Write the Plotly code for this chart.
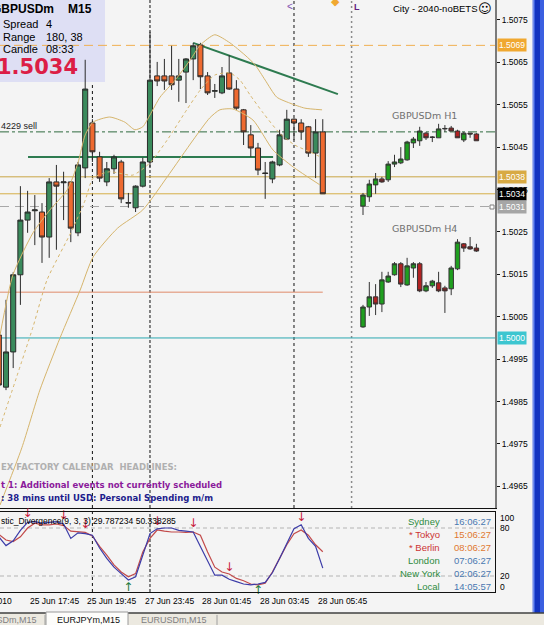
import plotly.graph_objects as go

W, H = 544, 625
SANS = "Liberation Sans"
VERD = "DejaVu Sans"

# ---------------- M15 candles (bar index 0..45) ----------------
bars = list(range(46))
m15_open = [1.50007, 1.49884, 1.49967, 1.50149, 1.50278, 1.50300, 1.50297, 1.50238, 1.50368, 1.50366,
            1.50368, 1.50248, 1.50401, 1.50507, 1.50427, 1.50368, 1.50399, 1.50415, 1.50318, 1.50307,
            1.50358, 1.50415, 1.50618, 1.50618, 1.50618, 1.50608, 1.50627, 1.50658, 1.50691, 1.50618,
            1.50582, 1.50578, 1.50625, 1.50587, 1.50538, 1.50479, 1.50448, 1.50389, 1.50375, 1.50408,
            1.50469, 1.50516, 1.50507, 1.50498, 1.50436, 1.50486]
m15_high = [1.50019, 1.50090, 1.50155, 1.50358, 1.50347, 1.50337, 1.50318, 1.50377, 1.50408, 1.50392,
            1.50370, 1.50415, 1.50656, 1.50516, 1.50439, 1.50415, 1.50432, 1.50420, 1.50342, 1.50360,
            1.50425, 1.50722, 1.50651, 1.50658, 1.50689, 1.50658, 1.50660, 1.50696, 1.50696, 1.50627,
            1.50599, 1.50639, 1.50667, 1.50608, 1.50540, 1.50502, 1.50460, 1.50415, 1.50418, 1.50491,
            1.50538, 1.50518, 1.50516, 1.50500, 1.50516, 1.50516]
m15_low = [1.49877, 1.49877, 1.49929, 1.50078, 1.50248, 1.50219, 1.50177, 1.50189, 1.50208, 1.50278,
           1.50226, 1.50240, 1.50377, 1.50415, 1.50368, 1.50358, 1.50387, 1.50318, 1.50307, 1.50297,
           1.50355, 1.50403, 1.50594, 1.50585, 1.50585, 1.50557, 1.50554, 1.50608, 1.50587, 1.50573,
           1.50566, 1.50575, 1.50585, 1.50538, 1.50455, 1.50427, 1.50384, 1.50328, 1.50365, 1.50405,
           1.50467, 1.50467, 1.50467, 1.50427, 1.50377, 1.50340]
m15_close = [1.49889, 1.49967, 1.50149, 1.50278, 1.50297, 1.50302, 1.50238, 1.50368, 1.50358, 1.50368,
             1.50259, 1.50408, 1.50587, 1.50439, 1.50377, 1.50399, 1.50427, 1.50328, 1.50319, 1.50358,
             1.50415, 1.50608, 1.50606, 1.50606, 1.50597, 1.50618, 1.50658, 1.50689, 1.50616, 1.50578,
             1.50583, 1.50618, 1.50587, 1.50542, 1.50486, 1.50448, 1.50396, 1.50388, 1.50415, 1.50479,
             1.50516, 1.50507, 1.50486, 1.50436, 1.50486, 1.50340]

# ---------------- band lines (bar position, price) ----------------
upper_pos = [0.17, 1.97, 4.75, 7.1, 9.5, 11, 12, 13.1, 15.4, 17.5, 18.9, 20, 21, 22.4, 24.5, 26.6,
             28, 30, 32.1, 34.2, 35.6, 37, 38.6, 40.4, 42.5, 44.9]
upper_val = [1.50007, 1.50149, 1.50248, 1.50302, 1.50349, 1.50413, 1.50479, 1.50509, 1.50521, 1.50509,
             1.50491, 1.50498, 1.50526, 1.50568, 1.50608, 1.50656, 1.50691, 1.50715, 1.50696, 1.50667,
             1.50644, 1.50608, 1.50568, 1.50554, 1.50542, 1.50538]
middle_pos = [0.17, 4.75, 6.7, 10.2, 12, 13.1, 15.4, 18.6, 21, 23.4, 26.1, 28, 30, 32.1, 33.5, 34.9,
              36.7, 39, 41.1, 43.2, 44.9]
middle_val = [1.49790, 1.50026, 1.50137, 1.50255, 1.50325, 1.50377, 1.50392, 1.50384, 1.50413, 1.50467,
              1.50538, 1.50585, 1.50620, 1.50625, 1.50608, 1.50573, 1.50531, 1.50483, 1.50455, 1.50439,
              1.50425]
lower_pos = [0.17, 3.2, 5.7, 8.5, 11.3, 13.1, 16.5, 20, 23.4, 27, 29.3, 30.7, 32.5, 35.3, 38.1, 40.9, 44.6]
lower_val = [1.49606, 1.49741, 1.49877, 1.50000, 1.50113, 1.50191, 1.50259, 1.50302, 1.50380, 1.50467,
             1.50519, 1.50538, 1.50540, 1.50514, 1.50443, 1.50403, 1.50361]

# ---------------- mini H1 / H4 charts ----------------
mini_bars = list(range(19))
h1_open = [1.50311, 1.50333, 1.50361, 1.50375, 1.50373, 1.50410, 1.50413, 1.50420, 1.50460, 1.50465,
           1.50483, 1.50474, 1.50472, 1.50493, 1.50495, 1.50488, 1.50467, 1.50483, 1.50481]
h1_high = [1.50342, 1.50373, 1.50389, 1.50380, 1.50417, 1.50432, 1.50450, 1.50465, 1.50474, 1.50498,
           1.50486, 1.50476, 1.50505, 1.50502, 1.50500, 1.50491, 1.50486, 1.50483, 1.50483]
h1_low = [1.50290, 1.50321, 1.50340, 1.50366, 1.50368, 1.50403, 1.50410, 1.50418, 1.50448, 1.50453,
          1.50467, 1.50462, 1.50472, 1.50486, 1.50488, 1.50472, 1.50462, 1.50472, 1.50465]
h1_close = [1.50337, 1.50363, 1.50375, 1.50368, 1.50410, 1.50415, 1.50422, 1.50462, 1.50469, 1.50488,
            1.50472, 1.50473, 1.50493, 1.50494, 1.50488, 1.50472, 1.50483, 1.50481, 1.50465]
h4_open = [1.50026, 1.50073, 1.50097, 1.50080, 1.50132, 1.50149, 1.50175, 1.50125, 1.50165, 1.50175,
           1.50111, 1.50123, 1.50130, 1.50118, 1.50116, 1.50163, 1.50222, 1.50215, 1.50212]
h4_high = [1.50078, 1.50132, 1.50127, 1.50156, 1.50156, 1.50179, 1.50179, 1.50189, 1.50179, 1.50179,
           1.50132, 1.50137, 1.50156, 1.50123, 1.50170, 1.50233, 1.50224, 1.50238, 1.50222]
h4_low = [1.50024, 1.50052, 1.50054, 1.50061, 1.50130, 1.50147, 1.50120, 1.50123, 1.50142, 1.50108,
          1.50108, 1.50118, 1.50108, 1.50059, 1.50101, 1.50160, 1.50203, 1.50208, 1.50203]
h4_close = [1.50073, 1.50097, 1.50080, 1.50137, 1.50146, 1.50175, 1.50127, 1.50170, 1.50175, 1.50111,
            1.50123, 1.50134, 1.50111, 1.50111, 1.50165, 1.50226, 1.50212, 1.50210, 1.50205]
h1_title = ("GBPUSDm H1", 9.8, 1.50524)
h4_title = ("GBPUSDm H4", 9.8, 1.50257)

# ---------------- stochastic ----------------
stoch_k = [69, 58, 64, 77, 87, 88, 86, 87, 88, 85, 67, 74, 73, 71, 55, 42, 31, 23, 15, 19, 47, 73, 79,
           80, 80, 77, 76, 75, 57, 39, 21, 21, 16, 13, 10, 9, 10, 12, 24, 42, 60, 79, 84, 67, 57, 29.8]
stoch_d = [72, 65, 63, 69, 80, 86, 84, 84, 85, 83, 76, 75, 74.5, 70, 57, 46, 34, 25, 19, 23, 50, 67, 77.5,
           76, 75, 75, 74.5, 75, 71, 50, 31, 25, 22.5, 17, 14, 10, 9, 11, 25, 42, 59, 73, 77.5, 71, 59, 50.3]
arrow_dn_bars = [4, 9, 12, 22, 27, 32, 42]
arrow_dn_vals = [90, 88, 76, 80, 77, 23, 85]
arrow_up_bars = [18, 36]
arrow_up_vals = [13, 9]
stoch_levels = [80, 20]

# ---------------- axis labels ----------------
date_bars = [4, 12, 20, 28, 36, 44]
date_text = ["25 Jun 17:45", "25 Jun 19:45", "27 Jun 23:45", "28 Jun 01:45", "28 Jun 03:45", "28 Jun 05:45"]
first_date = "25 Jun 2010"
price_ticks = [1.5075, 1.5065, 1.5055, 1.5045, 1.5035, 1.5025, 1.5015, 1.5005, 1.4995, 1.4985, 1.4975, 1.4965]

# ---------------- objects ----------------
tag_prices = [1.5069, 1.5038, 1.5034, 1.5031, 1.5000]
sell_level = 1.50486
salmon_level = 1.50108
salmon_bars = [0, 45]
green_level = 1.50427
green_bars = [4.06, 38.1]
trend_bars = [27.0, 47.1]
trend_prices = [1.50696, 1.50575]
vline_bars = [13, 21, 41, 49]
stoch_vline_bars = [13, 21]

session_names = ["Sydney", "* Tokyo", "* Berlin", "London", "New York", "Local"]
session_times = ["16:06:27", "15:06:27", "08:06:27", "07:06:27", "02:06:27", "14:05:57"]

# ================= figure =================
fig = go.Figure()

fig.add_trace(go.Scatter(x=upper_pos, y=upper_val, mode='lines', line=dict(color='#d6b56c', width=1, shape='spline', smoothing=0.6),
                         xaxis='x', yaxis='y', hoverinfo='skip'))
fig.add_trace(go.Scatter(x=middle_pos, y=middle_val, mode='lines', line=dict(color='#d6b56c', width=1, dash='3px,3px', shape='spline', smoothing=0.6),
                         xaxis='x', yaxis='y', hoverinfo='skip'))
fig.add_trace(go.Scatter(x=lower_pos, y=lower_val, mode='lines', line=dict(color='#d6b56c', width=1, shape='spline', smoothing=0.6),
                         xaxis='x', yaxis='y', hoverinfo='skip'))

fig.add_trace(go.Candlestick(x=bars, open=m15_open, high=m15_high, low=m15_low, close=m15_close,
                             increasing=dict(line=dict(color='#2a2a2a', width=1), fillcolor='#3a8a5c'),
                             decreasing=dict(line=dict(color='#2a2a2a', width=1), fillcolor='#ee6a30'),
                             xaxis='x', yaxis='y', hoverinfo='skip'))

mini_style = dict(increasing=dict(line=dict(color='#333333', width=1), fillcolor='#1f9f1f'),
                  decreasing=dict(line=dict(color='#333333', width=1), fillcolor='#b02222'))
fig.add_trace(go.Candlestick(x=mini_bars, open=h1_open, high=h1_high, low=h1_low, close=h1_close,
                             xaxis='x3', yaxis='y', hoverinfo='skip', **mini_style))
fig.add_trace(go.Candlestick(x=mini_bars, open=h4_open, high=h4_high, low=h4_low, close=h4_close,
                             xaxis='x3', yaxis='y', hoverinfo='skip', **mini_style))

# stochastic
fig.add_trace(go.Scatter(x=bars, y=stoch_d, mode='lines', line=dict(color='#c24a4a', width=1.2),
                         xaxis='x2', yaxis='y2', hoverinfo='skip'))
fig.add_trace(go.Scatter(x=bars, y=stoch_k, mode='lines', line=dict(color='#3c3ca8', width=1.2),
                         xaxis='x2', yaxis='y2', hoverinfo='skip'))
fig.add_trace(go.Scatter(x=arrow_dn_bars, y=arrow_dn_vals, mode='text', text=['↓'] * len(arrow_dn_bars),
                         textposition='top center', textfont=dict(size=12, color='#c8203c', family=VERD),
                         xaxis='x2', yaxis='y2', cliponaxis=False, hoverinfo='skip'))
fig.add_trace(go.Scatter(x=arrow_up_bars, y=arrow_up_vals, mode='text', text=['↑'] * len(arrow_up_bars),
                         textposition='bottom center', textfont=dict(size=12, color='#1e7a3c', family=VERD),
                         xaxis='x2', yaxis='y2', cliponaxis=False, hoverinfo='skip'))

shapes = []
# vertical separators in main panel
vstyles = [dict(color='#111111', width=1, dash='dot'), dict(color='#111111', width=1, dash='3px,2px'),
           dict(color='#111111', width=1, dash='dot'), dict(color='#8a8a8a', width=1.5, dash='2px,3px')]
for b, st in zip(vline_bars, vstyles):
    shapes.append(dict(type='line', xref='x', yref='y domain', x0=b, x1=b, y0=0, y1=1, line=st, layer='below'))
for b, st in zip(stoch_vline_bars, vstyles):
    shapes.append(dict(type='line', xref='x2', yref='y2 domain', x0=b, x1=b, y0=0, y1=1, line=st, layer='below'))
# info box
shapes.append(dict(type='rect', xref='x domain', yref='y domain', x0=-0.01, x1=105 / 495, y0=1 - 82 / 508, y1=1.01,
                   fillcolor='#dedff4', line=dict(width=0), layer='below'))
# full-width levels
lvl_styles = [dict(color='#f0b050', width=1, dash='9px,5px'), dict(color='#c9a545', width=1),
              dict(color='#d5ae48', width=1), dict(color='#a8a8a8', width=1, dash='9px,6px'),
              dict(color='#2aa7b0', width=1)]
for p, st in zip(tag_prices, lvl_styles):
    shapes.append(dict(type='line', xref='x domain', yref='y', x0=0, x1=1, y0=p, y1=p, line=st, layer='below'))
shapes.append(dict(type='line', xref='x domain', yref='y', x0=0, x1=1, y0=sell_level, y1=sell_level,
                   line=dict(color='#2f6b3f', width=1, dash='dashdot'), layer='below'))
shapes.append(dict(type='line', xref='x', yref='y', x0=salmon_bars[0] - 1, x1=salmon_bars[1], y0=salmon_level, y1=salmon_level,
                   line=dict(color='#e08a6a', width=1), layer='below'))
shapes.append(dict(type='line', xref='x', yref='y', x0=green_bars[0], x1=green_bars[1], y0=green_level, y1=green_level,
                   line=dict(color='#2e7b50', width=2), layer='below'))
shapes.append(dict(type='line', xref='x', yref='y', x0=trend_bars[0], x1=trend_bars[1], y0=trend_prices[0], y1=trend_prices[1],
                   line=dict(color='#2e7b50', width=2), layer='below'))
for lv in stoch_levels:
    shapes.append(dict(type='line', xref='x2 domain', yref='y2', x0=0, x1=1, y0=lv, y1=lv,
                       line=dict(color='#b4b4b4', width=1, dash='4px,3px'), layer='below'))

def P(px, py):
    return px / W, 1 - py / H

# window chrome: blue bar on the right, tab strip at the bottom
x0, y0 = P(532, 614)
shapes.append(dict(type='rect', xref='paper', yref='paper', x0=x0, x1=1, y0=y0, y1=1, fillcolor='#3a5fe0', line=dict(width=0), layer='above'))
a, _ = P(535, 0); b, _ = P(540, 0)
shapes.append(dict(type='rect', xref='paper', yref='paper', x0=a, x1=b, y0=y0, y1=1, fillcolor='#1233c0', line=dict(width=0), layer='above'))
a, _ = P(532, 0); b, _ = P(533.5, 0)
shapes.append(dict(type='rect', xref='paper', yref='paper', x0=a, x1=b, y0=y0, y1=1, fillcolor='#a9b9f0', line=dict(width=0), layer='above'))
_, t0 = P(0, 613)
shapes.append(dict(type='rect', xref='paper', yref='paper', x0=0, x1=1, y0=0, y1=t0, fillcolor='#ece9e0', line=dict(width=0), layer='above'))
shapes.append(dict(type='line', xref='paper', yref='paper', x0=0, x1=1, y0=t0, y1=t0, line=dict(color='#404040', width=1.5), layer='above'))
ta, tb = P(46, 612)
tc, _ = P(128, 0)
shapes.append(dict(type='rect', xref='paper', yref='paper', x0=ta, x1=tc, y0=-0.01, y1=tb, fillcolor='#fdfdfb',
                   line=dict(color='#9a9a9a', width=1), layer='above'))
for sx in [45, 217]:
    sxp, _ = P(sx, 0)
    shapes.append(dict(type='line', xref='paper', yref='paper', x0=sxp, x1=sxp, y0=0, y1=t0 - 0.003,
                       line=dict(color='#a0a0a0', width=1), layer='above'))
# small square marker on the 1.5031 line
sa, sb = P(490, 205)
sc, sd = P(494, 209)
shapes.append(dict(type='rect', xref='paper', yref='paper', x0=sa, x1=sc, y0=sd, y1=sb, fillcolor='#ffffff',
                   line=dict(color='#808080', width=1), layer='above'))

ann = []

def txt(text, px, py, size=9, color='black', family=SANS, xanchor='left', bold=False, bg=None):
    x, y = P(px, py)
    ann.append(dict(text=('<b>%s</b>' % text) if bold else text, xref='paper', yref='paper', x=x, y=y,
                    xanchor=xanchor, yanchor='middle', showarrow=False, bgcolor=bg, borderpad=0,
                    font=dict(size=size, color=color, family=family)))

# info box
txt("GBPUSDm", 55, 9, 12, bold=True, xanchor='right')
txt("M15", 67, 9, 12, bold=True)
for i, (lab, val) in enumerate([("Spread", "4"), ("Range", "180, 38"), ("Candle", "08:33")]):
    txt(lab, 2, 24 + 12.5 * i, 11)
    txt(val, 45, 24 + 12.5 * i, 11)
txt("1.5034", 79, 67, 21, color='#dc1e46', family=VERD, bold=True, xanchor='right')
txt("4229 sell", 0, 126, 9, color='#222222')
txt("City - 2040-noBETS", 478, 8, 9.5, xanchor='right')
txt("☺", 485, 8, 13, xanchor='center', family=VERD)
txt("<", 290, 6, 10, color='#8050b0', xanchor='center')
txt("◆", 335, 1, 11, color='#f0a830', xanchor='center')
txt("L", 357, 7, 9, color='#602080', bold=True, xanchor='center')
txt("EX FACTORY CALENDAR  HEADLINES:", 0, 467, 8.5, color='#b0b0b0', family=VERD, bold=True)
txt("t 1: Additional events not currently scheduled", 0, 485, 8.5, color='#8b1a9b', family=VERD, bold=True)
txt(": 38 mins until USD: Personal Spending m/m", 0, 498, 8.5, color='#1c1c8c', family=VERD, bold=True)
txt("stic_Divergence(9, 3, 3) 29.787234 50.338285", 0, 521, 8.5)
name_colors = ['#2e8b3e', '#cc3333', '#cc3333', '#2e8b3e', '#2e8b3e', '#2e8b3e']
time_colors = ['#4a78b0', '#e07830', '#e07830', '#4a78b0', '#4a78b0', '#4a78b0']
for i, (n, t) in enumerate(zip(session_names, session_times)):
    yy = 521 + 13 * i
    txt(n, 441, yy, 9.5, color=name_colors[i], xanchor='right')
    txt(t, 453, yy, 9.5, color=time_colors[i])
txt("100", 499, 518, 8.5)
txt("80", 499, 528, 8.5)
txt("20", 499, 576, 8.5)
txt("0", 499, 587, 8.5)
txt("GBPUSDm,M15", 38, 620, 9, color='#808080', xanchor='right')
txt("EURJPYm,M15", 56, 620, 9, color='#111111')
txt("EURUSDm,M15", 140, 620, 9, color='#808080')

# mini chart titles
for (title, xx, yy) in [h1_title, h4_title]:
    ann.append(dict(text=title, xref='x3', yref='y', x=xx, y=yy, xanchor='center', yanchor='middle', showarrow=False,
                    font=dict(size=9.5, color='#707070', family=VERD)))

# price tags
tag_bg = ['#f0a830', '#d8aa44', '#000000', '#a6a6a6', '#3cc6d0']
for p, bgc in zip(tag_prices, tag_bg):
    ann.append(dict(text='%.4f' % p, xref='paper', yref='y', x=497 / W, y=p, xanchor='left', yanchor='middle',
                    showarrow=False, bgcolor=bgc, borderpad=1, font=dict(size=8.5, color='white', family=SANS)))

# date labels
_, dy = P(0, 601)
for b, t in zip(date_bars, date_text):
    ann.append(dict(text=t, xref='x2', yref='paper', x=b, y=dy, xanchor='left', yanchor='middle', showarrow=False,
                    font=dict(size=8.5, color='black', family=SANS)))
ann.append(dict(text=first_date, xref='x2', yref='paper', x=date_bars[0], y=dy, xanchor='right', yanchor='middle',
                xshift=-14, showarrow=False, font=dict(size=8.5, color='black', family=SANS)))

XR = [0.1667, 68.92]
fig.update_layout(
    width=W, height=H, margin=dict(l=0, r=0, t=0, b=0),
    paper_bgcolor='#f4f4f4', plot_bgcolor='#f4f4f4',
    showlegend=False, hovermode=False, boxgap=0.2, boxgroupgap=0.12,
    xaxis=dict(domain=[0, 495 / W], range=XR, showticklabels=False, showgrid=False, zeroline=False, ticks='',
               showline=True, linecolor='#111111', linewidth=1, rangeslider=dict(visible=False), anchor='y'),
    yaxis=dict(domain=[1 - 508 / H, 1], range=[1.49599, 1.50797], side='right', anchor='x',
               tickvals=price_ticks, ticktext=['%.4f' % v for v in price_ticks], ticks='outside', ticklen=3,
               tickcolor='#111111', tickfont=dict(family=SANS, size=8.5, color='black'),
               showgrid=False, zeroline=False, showline=True, linecolor='#7a7a7a', linewidth=2),
    xaxis2=dict(domain=[0, 495 / W], range=XR, anchor='y2', showticklabels=False, showgrid=False, zeroline=False,
                ticks='', showline=True, mirror=True, linecolor='#111111', linewidth=1, rangeslider=dict(visible=False)),
    yaxis2=dict(domain=[1 - 592 / H, 1 - 512 / H], range=[0, 100], anchor='x2', side='right', showticklabels=False,
                showgrid=False, zeroline=False, ticks='', showline=True, linecolor='#111111', linewidth=1),
    xaxis3=dict(overlaying='x', anchor='y', range=[-363 / 6.3, (495 - 363) / 6.3], visible=False,
                showgrid=False, zeroline=False, rangeslider=dict(visible=False)),
    shapes=shapes, annotations=ann,
)

fig.write_html("out.html")
